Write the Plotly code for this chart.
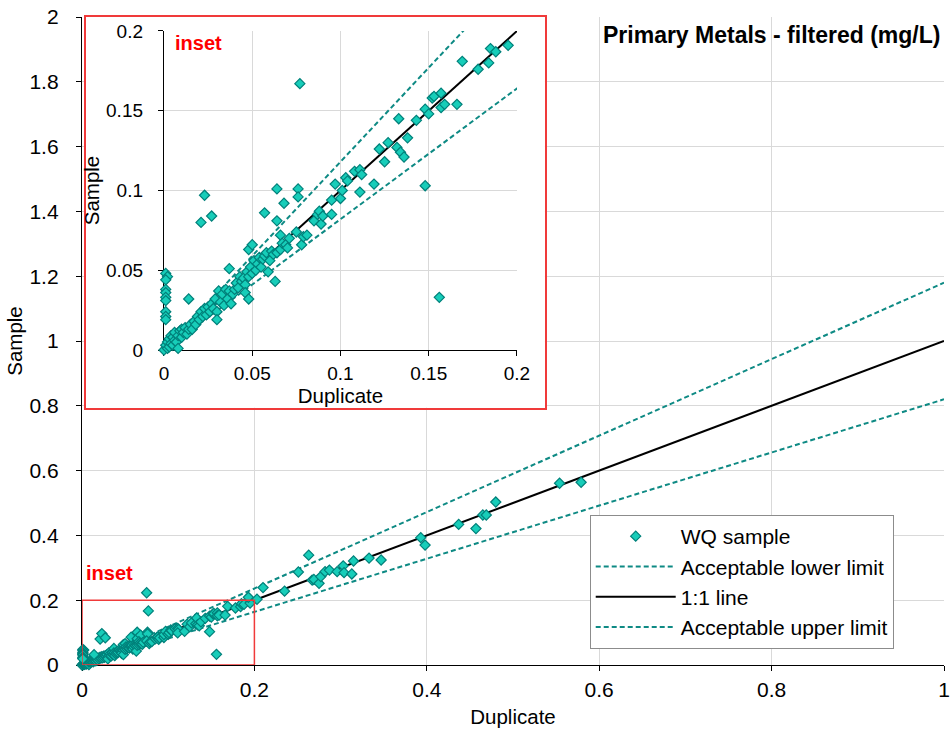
import numpy as np
import plotly.graph_objects as go

# Field duplicate pairs (mg/L): duplicate result vs. primary sample result
duplicate = [
    0.000, 0.001, 0.002, 0.002, 0.003, 0.003, 0.004, 0.004, 0.005, 0.005,
    0.006, 0.006, 0.007, 0.008, 0.008, 0.009, 0.010, 0.010, 0.011, 0.012,
    0.013, 0.014, 0.015, 0.016, 0.017, 0.018, 0.019, 0.020, 0.021, 0.022,
    0.023, 0.024, 0.025, 0.026, 0.027, 0.028, 0.029, 0.030, 0.030, 0.031,
    0.001, 0.002, 0.001, 0.001, 0.001, 0.001, 0.001, 0.001, 0.001, 0.001,
    0.032, 0.033, 0.034, 0.035, 0.036, 0.037, 0.037, 0.038, 0.039, 0.040,
    0.041, 0.042, 0.043, 0.044, 0.045, 0.046, 0.046, 0.047, 0.048, 0.048,
    0.049, 0.050, 0.048, 0.050, 0.051, 0.052, 0.053, 0.054, 0.055, 0.056,
    0.057, 0.058, 0.059, 0.060, 0.061, 0.062, 0.063, 0.064, 0.014,
    0.021, 0.023, 0.027, 0.057, 0.064, 0.064, 0.068, 0.076, 0.076, 0.077,
    0.075,
    0.066, 0.066, 0.067, 0.069, 0.070, 0.071, 0.075, 0.078, 0.079, 0.081,
    0.085, 0.087, 0.088, 0.089, 0.090, 0.095, 0.095, 0.097, 0.100, 0.101,
    0.103, 0.104, 0.108, 0.111, 0.112, 0.111, 0.119,
    0.122, 0.125, 0.127, 0.132, 0.133, 0.134, 0.136, 0.138, 0.143, 0.148,
    0.150, 0.148, 0.152, 0.153, 0.156, 0.157, 0.157, 0.159, 0.166, 0.169,
    0.178, 0.184, 0.185, 0.188, 0.195,
    0.193, 0.203, 0.210, 0.235, 0.251, 0.263, 0.267, 0.269, 0.275, 0.277,
    0.282, 0.287, 0.296, 0.303, 0.304, 0.313, 0.315, 0.333, 0.347, 0.393,
    0.398, 0.437, 0.457, 0.465, 0.469, 0.480, 0.554, 0.579,
]
sample = [
    0.000, 0.003, 0.001, 0.005, 0.002, 0.007, 0.004, 0.009, 0.003, 0.008,
    0.006, 0.011, 0.005, 0.001, 0.009, 0.012, 0.008, 0.013, 0.011, 0.014,
    0.010, 0.013, 0.016, 0.013, 0.018, 0.016, 0.021, 0.019, 0.024, 0.021,
    0.026, 0.022, 0.027, 0.024, 0.029, 0.026, 0.032, 0.024, 0.019, 0.037,
    0.048, 0.046, 0.044, 0.038, 0.036, 0.033, 0.031, 0.024, 0.021, 0.019,
    0.030, 0.035, 0.028, 0.038, 0.032, 0.051, 0.037, 0.029, 0.035, 0.038,
    0.042, 0.039, 0.046, 0.043, 0.045, 0.041, 0.036, 0.049, 0.046, 0.032,
    0.052, 0.048, 0.063, 0.066, 0.056, 0.050, 0.054, 0.058, 0.052, 0.057,
    0.059, 0.061, 0.049, 0.056, 0.062, 0.060, 0.043, 0.061, 0.032,
    0.080, 0.097, 0.084, 0.086, 0.101, 0.081, 0.092, 0.101, 0.096, 0.167,
    0.223,
    0.072, 0.063, 0.067, 0.066, 0.064, 0.070, 0.074, 0.066, 0.071, 0.072,
    0.081, 0.085, 0.087, 0.079, 0.084, 0.085, 0.094, 0.104, 0.095, 0.100,
    0.108, 0.106, 0.112, 0.113, 0.110, 0.099, 0.104,
    0.126, 0.118, 0.130, 0.127, 0.145, 0.124, 0.121, 0.133, 0.144, 0.151,
    0.148, 0.103, 0.158, 0.159, 0.033, 0.161, 0.152, 0.154, 0.154, 0.181,
    0.176, 0.180, 0.189, 0.187, 0.191,
    0.209, 0.203, 0.239, 0.228, 0.287, 0.339, 0.262, 0.264, 0.252, 0.273,
    0.288, 0.293, 0.288, 0.306, 0.285, 0.281, 0.321, 0.330, 0.324, 0.393,
    0.370, 0.434, 0.421, 0.463, 0.463, 0.503, 0.561, 0.564,
]

# Acceptance band around the 1:1 line
lower_factor = 0.82
upper_factor = 1.18
line_x = [0.0, 1.0]
limit_x = [0.02, 1.0]

main_ticks = [0, 0.2, 0.4, 0.6, 0.8, 1.0]
main_yticks = [0, 0.2, 0.4, 0.6, 0.8, 1.0, 1.2, 1.4, 1.6, 1.8, 2.0]
inset_ticks = [0, 0.05, 0.1, 0.15, 0.2]
inset_max = 0.2

FONT = "Liberation Sans, Arial, sans-serif"
FILL = "#17CDB9"
EDGE = "#00807A"
TEAL = "#0E8A84"
GRID = "#D9D9D9"
RED = "#FF0000"
BOX_RED = "#F03A3A"

dup = np.array(duplicate)
smp = np.array(sample)
lim = np.array(limit_x)
in_inset = (dup <= inset_max) & (smp <= inset_max)

fig = go.Figure()


def add_series(xa, ya, show, x_pts, y_pts):
    fig.add_trace(go.Scatter(
        x=lim, y=lower_factor * lim, mode="lines", name="Acceptable lower limit",
        line=dict(color=TEAL, width=2, dash="5px,3px"), xaxis=xa, yaxis=ya,
        showlegend=show, legendrank=2, hoverinfo="skip"))
    fig.add_trace(go.Scatter(
        x=line_x, y=line_x, mode="lines", name="1:1 line",
        line=dict(color="black", width=2), xaxis=xa, yaxis=ya,
        showlegend=show, legendrank=3, hoverinfo="skip"))
    fig.add_trace(go.Scatter(
        x=lim, y=upper_factor * lim, mode="lines", name="Acceptable upper limit",
        line=dict(color=TEAL, width=2, dash="5px,3px"), xaxis=xa, yaxis=ya,
        showlegend=show, legendrank=4, hoverinfo="skip"))
    fig.add_trace(go.Scatter(
        x=x_pts, y=y_pts, mode="markers", name="WQ sample",
        marker=dict(symbol="diamond", size=7.8, color=FILL,
                    line=dict(color=EDGE, width=1.2)),
        xaxis=xa, yaxis=ya, showlegend=show, legendrank=1, cliponaxis=False))


# Main chart
add_series("x", "y", True, dup, smp)

# Blank panel behind the inset (white card with red frame)
fig.add_trace(go.Scatter(x=[None], y=[None], xaxis="x2", yaxis="y2",
                         showlegend=False, hoverinfo="skip"))

# Inset zoomed on 0-0.2
add_series("x3", "y3", False, dup[in_inset], smp[in_inset])

main_tick_font = dict(family=FONT, size=21, color="black")
inset_tick_font = dict(family=FONT, size=19, color="black")
title_font = dict(family=FONT, size=20.5, color="black")

fig.update_layout(
    width=952, height=735,
    margin=dict(l=82, r=8, t=17, b=70),
    template="none",
    paper_bgcolor="white", plot_bgcolor="white",
    font=dict(family=FONT, color="black"),
    showlegend=True,
    legend=dict(x=0.589, y=0.2315, xanchor="left", yanchor="top",
                bgcolor="white", bordercolor="#8C8C8C", borderwidth=1,
                font=dict(family=FONT, size=21, color="black"),
                itemwidth=80, tracegroupgap=0),
    xaxis=dict(domain=[0, 1], range=[0, 1], tickvals=main_ticks,
               showgrid=True, gridcolor=GRID, gridwidth=1, zeroline=False,
               showline=True, linecolor="black", linewidth=1.3,
               ticks="outside", ticklen=5, tickcolor="black",
               tickfont=main_tick_font, ticklabelstandoff=1,
               title=dict(text="Duplicate", font=title_font, standoff=9),
               layer="below traces", anchor="y"),
    yaxis=dict(domain=[0, 1], range=[0, 2], tickvals=main_yticks,
               showgrid=True, gridcolor=GRID, gridwidth=1, zeroline=False,
               showline=True, linecolor="black", linewidth=1.3,
               ticks="outside", ticklen=5, tickcolor="black",
               tickfont=main_tick_font, ticklabelstandoff=13,
               title=dict(text="Sample", font=title_font, standoff=1),
               layer="below traces", anchor="x"),
    xaxis2=dict(domain=[0.0046, 0.537], range=[0, 1], showgrid=False,
                zeroline=False, showticklabels=False, ticks="",
                showline=True, mirror=True, linecolor=BOX_RED, linewidth=1.5,
                anchor="y2", fixedrange=True),
    yaxis2=dict(domain=[0.397, 1.0], range=[0, 1], showgrid=False,
                zeroline=False, showticklabels=False, ticks="",
                showline=True, mirror=True, linecolor=BOX_RED, linewidth=1.5,
                anchor="x2", fixedrange=True),
    xaxis3=dict(domain=[0.0951, 0.5046], range=[0, inset_max],
                tickvals=inset_ticks,
                showgrid=True, gridcolor=GRID, gridwidth=1, zeroline=False,
                showline=True, linecolor="black", linewidth=1.3,
                ticks="outside", ticklen=5, tickcolor="black",
                tickfont=inset_tick_font, ticklabelstandoff=1,
                title=dict(text="Duplicate", font=title_font, standoff=1),
                layer="below traces", anchor="y3"),
    yaxis3=dict(domain=[0.4861, 0.9784], range=[0, inset_max],
                tickvals=inset_ticks,
                showgrid=True, gridcolor=GRID, gridwidth=1, zeroline=False,
                showline=True, linecolor="black", linewidth=1.3,
                ticks="outside", ticklen=5, tickcolor="black",
                tickfont=inset_tick_font, ticklabelstandoff=11,
                title=dict(text="Sample", font=title_font, standoff=0),
                layer="below traces", anchor="x3"),
    shapes=[
        dict(type="rect", xref="x", yref="y", x0=0, y0=0,
             x1=inset_max, y1=inset_max,
             line=dict(color=BOX_RED, width=1.5), fillcolor="rgba(0,0,0,0)"),
    ],
    annotations=[
        dict(text="<b>Primary Metals - filtered (mg/L)</b>", xref="paper",
             yref="paper", x=0.998, y=0.972, xanchor="right",
             yanchor="middle", showarrow=False,
             font=dict(family=FONT, size=23, color="black")),
        dict(text="<b>inset</b>", xref="x", yref="y", x=0.002, y=0.284,
             xanchor="left", yanchor="middle", showarrow=False,
             font=dict(family=FONT, size=20, color=RED)),
        dict(text="<b>inset</b>", xref="x3", yref="y3", x=0.005, y=0.1923,
             xanchor="left", yanchor="middle", showarrow=False,
             font=dict(family=FONT, size=20, color=RED)),
    ],
)

fig.write_html("out.html")
